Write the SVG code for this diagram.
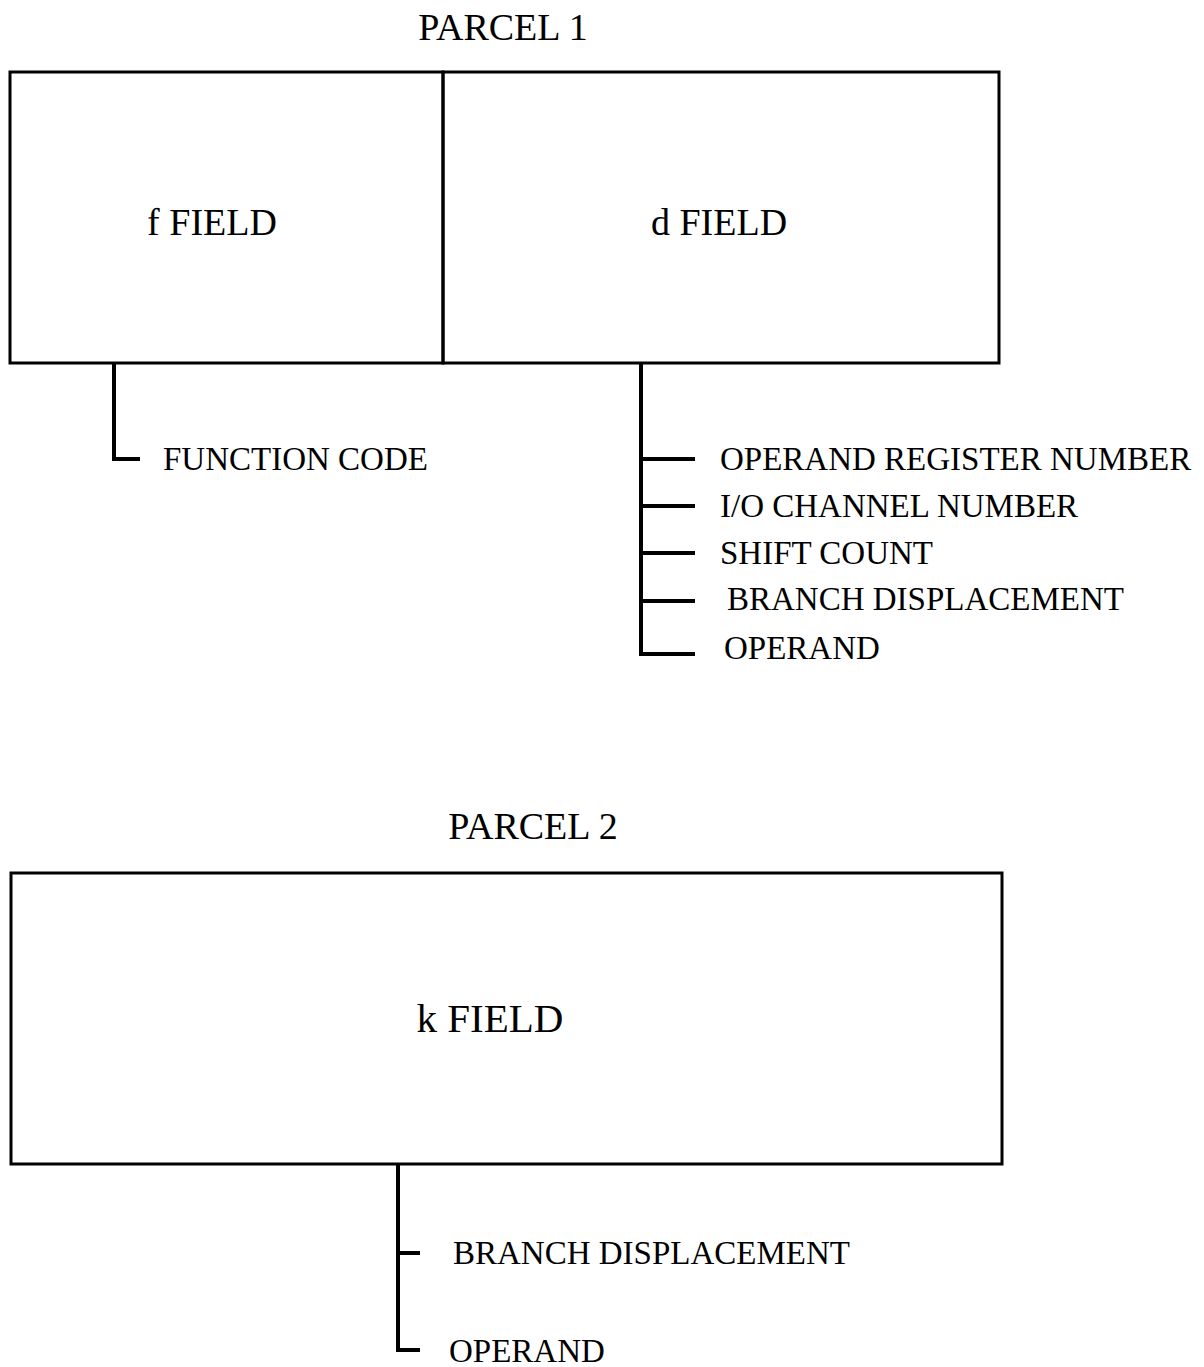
<svg xmlns="http://www.w3.org/2000/svg" width="1204" height="1367" viewBox="0 0 1204 1367">
<style>
.box{fill:none;stroke:#000;stroke-width:3}
.ln{fill:none;stroke:#000;stroke-width:4}
.t{font-family:"Liberation Serif","Times New Roman",serif;fill:#000}
.title{font-size:38px}
.field{font-size:38px}
.lab{font-size:33px}
</style>
<rect width="1204" height="1367" fill="#fff"/>
<text class="t title" x="503" y="40" text-anchor="middle">PARCEL 1</text>
<g id="f-field">
<rect class="box" x="10" y="72" width="433" height="291"/>
<text class="t field" x="212" y="235" text-anchor="middle">f FIELD</text>
</g>
<g id="d-field">
<rect class="box" x="443" y="72" width="556" height="291"/>
<text class="t field" x="719" y="235" text-anchor="middle">d FIELD</text>
</g>
<text class="t title" x="533" y="839" text-anchor="middle">PARCEL 2</text>
<g id="k-field">
<rect class="box" x="11" y="873" width="991" height="291"/>
<text class="t field" x="490" y="1032" text-anchor="middle" style="font-size:41px">k FIELD</text>
</g>
<g id="connectors">
<path class="ln" d="M114 363 V459 H140"/>
<path class="ln" d="M641 363 V654 H695 M641 459 H695 M641 506 H695 M641 553 H695 M641 601 H695"/>
<path class="ln" d="M398 1164 V1350 H420 M398 1253 H420"/>
</g>
<g id="labels">
<text class="t lab" x="163" y="470">FUNCTION CODE</text>
<text class="t lab" x="720" y="470">OPERAND REGISTER NUMBER</text>
<text class="t lab" x="720" y="517">I/O CHANNEL NUMBER</text>
<text class="t lab" x="720" y="564">SHIFT COUNT</text>
<text class="t lab" x="727" y="610">BRANCH DISPLACEMENT</text>
<text class="t lab" x="724" y="659">OPERAND</text>
<text class="t lab" x="453" y="1264">BRANCH DISPLACEMENT</text>
<text class="t lab" x="449" y="1362">OPERAND</text>
</g>
</svg>
